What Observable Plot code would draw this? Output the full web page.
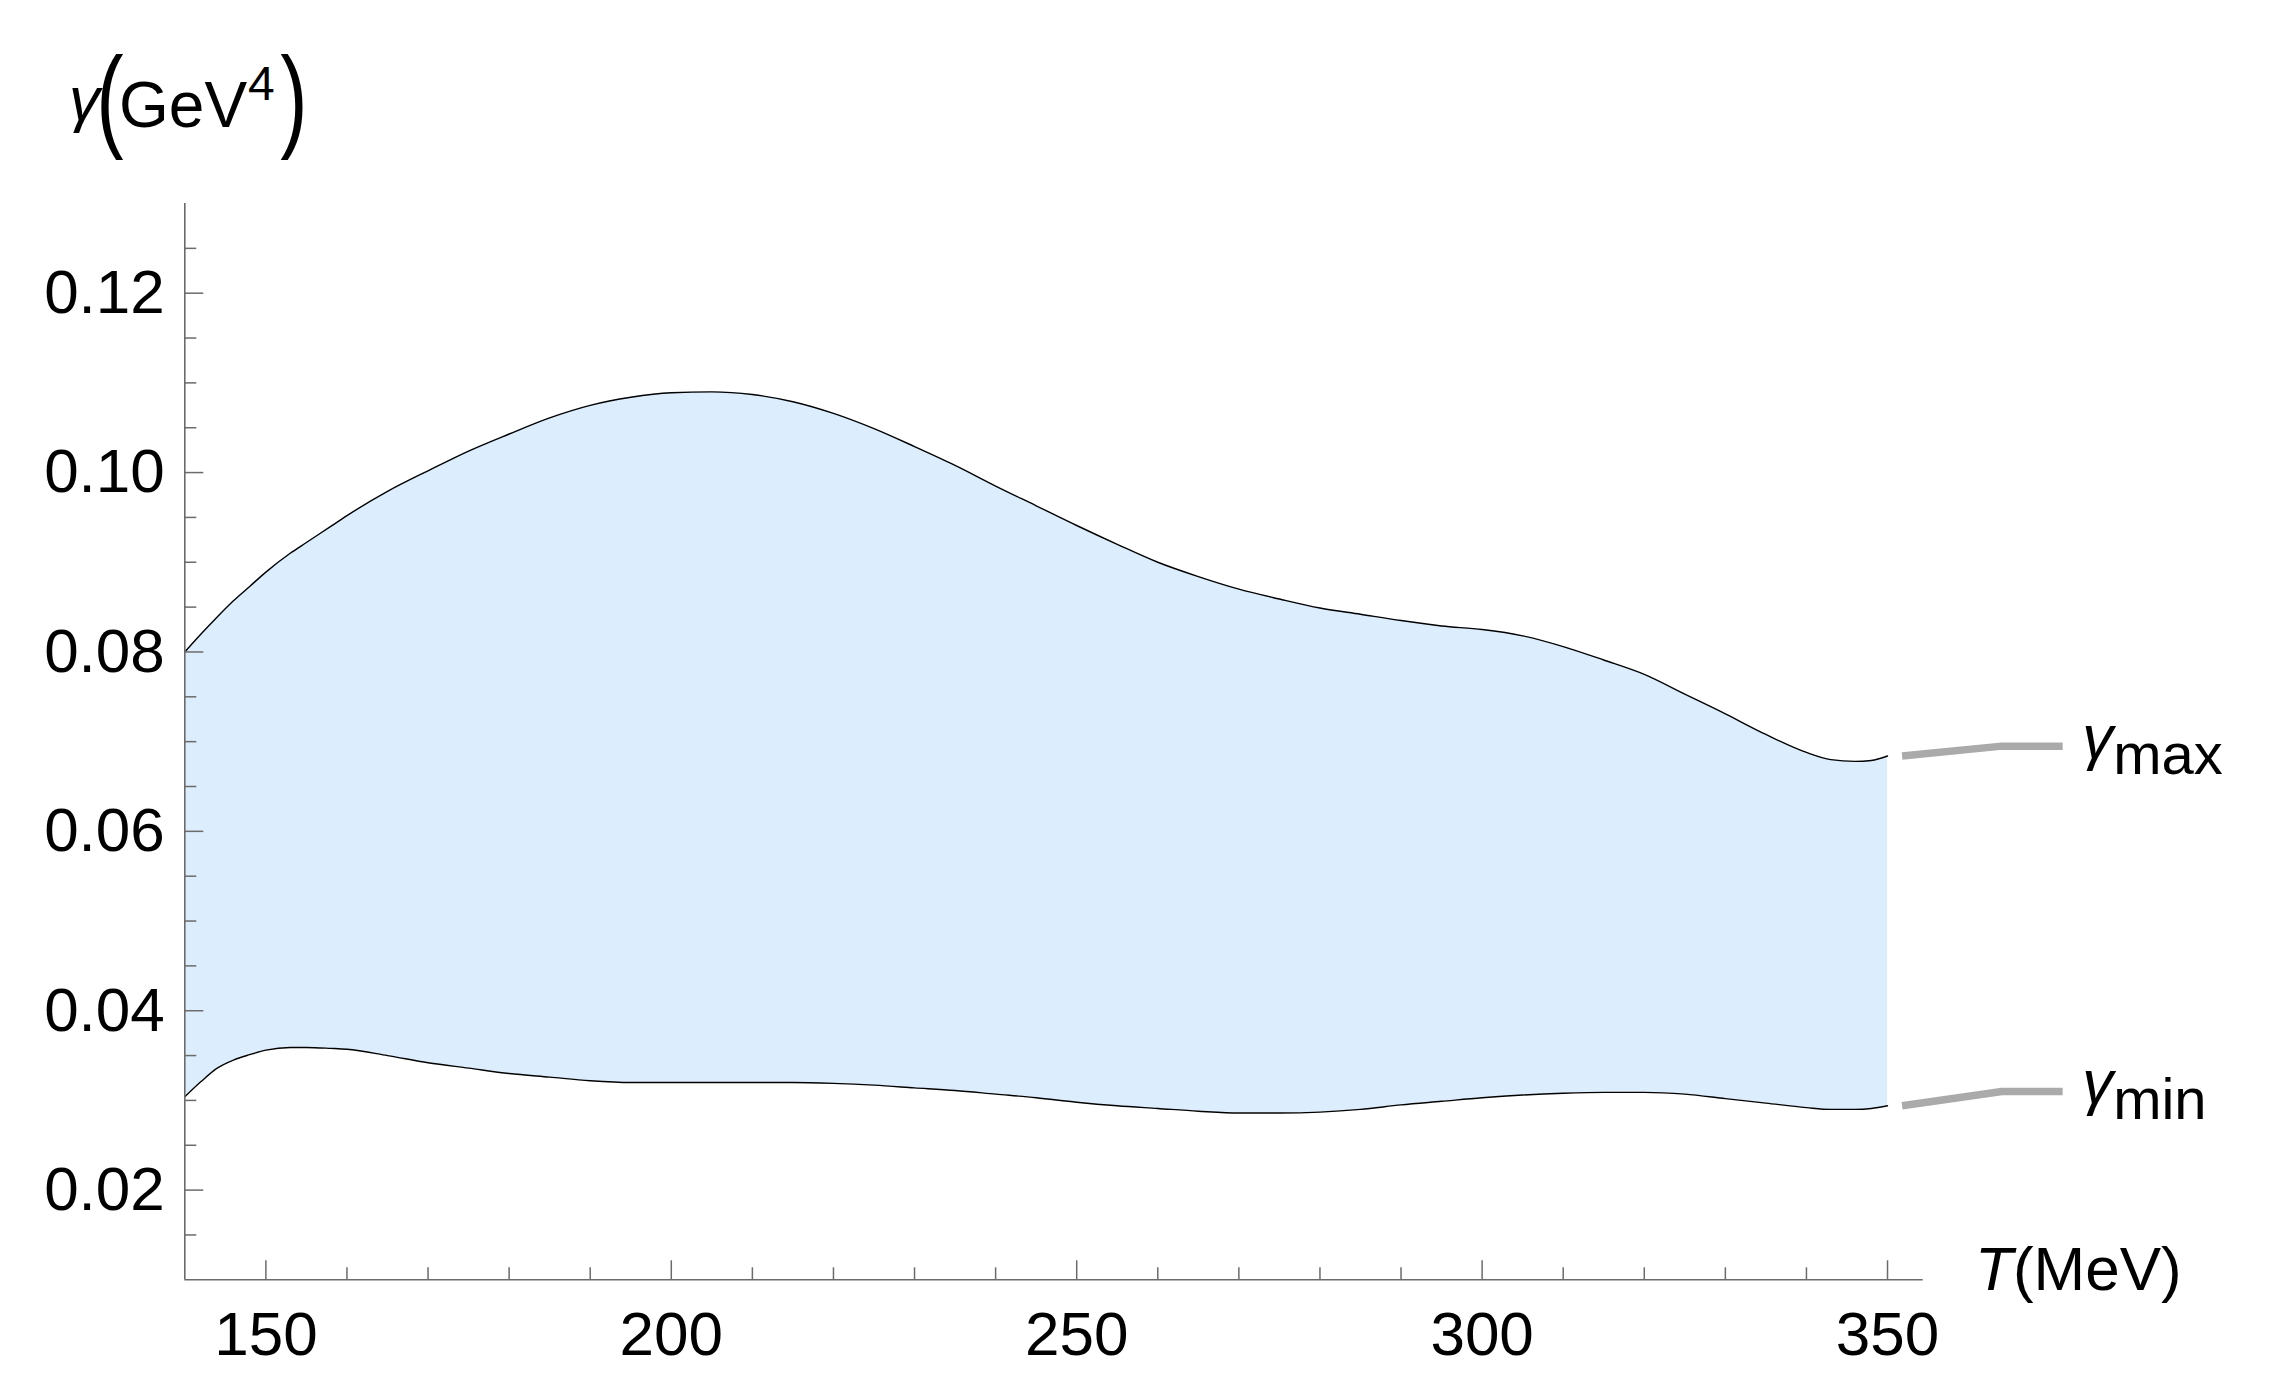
<!DOCTYPE html>
<html>
<head>
<meta charset="utf-8">
<script src="https://cdn.jsdelivr.net/npm/d3@7"></script>
<script src="https://cdn.jsdelivr.net/npm/@observablehq/plot@0.6"></script>
<style>
  html, body { margin: 0; padding: 0; background: #ffffff; overflow: hidden; }
  #chart { width: 2278px; height: 1398px; }
</style>
</head>
<body>
<div id="chart"></div>
<script>
// ---- data ----
const T = [140, 142, 144, 146, 148, 150, 153, 155, 158, 160, 165, 170, 175, 180, 185, 190, 195, 200,
           205, 210, 215, 220, 225, 230, 235, 240, 245, 250, 255, 260, 265, 270, 275, 280, 285, 290,
           295, 300, 305, 310, 315, 320, 325, 330, 335, 340, 343, 346, 348, 350];
const gammaMax = [0.0800, 0.0820, 0.0839, 0.0857, 0.0873, 0.0889, 0.0910, 0.0922, 0.0940, 0.0952,
                  0.0979, 0.1002, 0.1024, 0.1043, 0.1061, 0.1075, 0.1084, 0.1089, 0.1090, 0.1087,
                  0.1079, 0.1066, 0.1049, 0.1029, 0.1008, 0.0985, 0.0963, 0.0941, 0.0920, 0.0900,
                  0.0884, 0.0870, 0.0859, 0.0849, 0.0842, 0.0835, 0.0829, 0.0825, 0.0818, 0.0806,
                  0.0791, 0.0775, 0.0753, 0.0731, 0.0708, 0.0688, 0.0680, 0.0678, 0.0679, 0.0684];
const gammaMin = [0.0304, 0.0321, 0.0336, 0.0345, 0.0351, 0.0356, 0.0359, 0.0359, 0.0358, 0.0357,
                  0.0350, 0.0342, 0.0336, 0.0330, 0.0326, 0.0322, 0.0320, 0.0320, 0.0320, 0.0320,
                  0.0320, 0.0319, 0.0317, 0.0314, 0.0311, 0.0307, 0.0303, 0.0298, 0.0294, 0.0291,
                  0.0288, 0.0286, 0.0286, 0.0287, 0.0290, 0.0295, 0.0299, 0.0303, 0.0306, 0.0308,
                  0.0309, 0.0309, 0.0307, 0.0302, 0.0297, 0.0292, 0.0290, 0.0290, 0.0291, 0.0294];

const xMajorTicks = [150, 200, 250, 300, 350];
const xMinorTicks = [160, 170, 180, 190, 210, 220, 230, 240, 260, 270, 280, 290, 310, 320, 330, 340];
const yMajorTicks = [0.02, 0.04, 0.06, 0.08, 0.10, 0.12];
const yMinorTicks = [0.015, 0.025, 0.03, 0.035, 0.045, 0.05, 0.055, 0.065, 0.07, 0.075,
                     0.085, 0.09, 0.095, 0.105, 0.11, 0.115, 0.125];

const seriesLabels = ["max", "min"];
const calloutX = [351.8, 364.1, 371.6];
const calloutY = [0.0695, 0.0310];

// ---- layout ----
const W = 2278, H = 1398;
const mL = 184.3, mR = 355.3, mT = 203, mB = 118.7;
const frameW = W - mL - mR, frameH = H - mT - mB;
const axisColor = "#6b6b6b";
const font = "'Liberation Sans', Arial, Helvetica, sans-serif";

const data = T.map((t, i) => ({T: t, max: gammaMax[i], min: gammaMin[i]}));
const seriesEnd = [gammaMax[gammaMax.length - 1], gammaMin[gammaMin.length - 1]];
const callouts = seriesLabels.flatMap((s, k) => [
  {s, x: calloutX[0], y: seriesEnd[k]},
  {s, x: calloutX[1], y: calloutY[k]},
  {s, x: calloutX[2], y: calloutY[k]}
]);

const plot = Plot.plot({
  width: W, height: H,
  marginLeft: mL, marginRight: mR, marginTop: mT, marginBottom: mB,
  style: {fontFamily: font, fontSize: "62px", background: "#ffffff", overflow: "visible", color: "#000"},
  x: {domain: [140, 354.4]},
  y: {domain: [0.01, 0.13]},
  marks: [
    Plot.areaY(data, {x: "T", y1: "min", y2: "max", fill: "#dcedfd", curve: "monotone-x"}),
    Plot.line(data, {x: "T", y: "max", stroke: "#000", strokeWidth: 1.4, curve: "monotone-x"}),
    Plot.line(data, {x: "T", y: "min", stroke: "#000", strokeWidth: 1.4, curve: "monotone-x"}),
    // axis lines
    Plot.ruleY([0.01], {stroke: axisColor, strokeWidth: 1.6}),
    Plot.ruleX([140], {stroke: axisColor, strokeWidth: 1.6}),
    // inward ticks
    Plot.ruleX(xMajorTicks, {stroke: axisColor, strokeWidth: 1.5, insetTop: frameH - 19}),
    Plot.ruleX(xMinorTicks, {stroke: axisColor, strokeWidth: 1.5, insetTop: frameH - 12}),
    Plot.ruleY(yMajorTicks, {stroke: axisColor, strokeWidth: 1.5, insetRight: frameW - 19}),
    Plot.ruleY(yMinorTicks, {stroke: axisColor, strokeWidth: 1.5, insetRight: frameW - 12}),
    // tick labels
    Plot.axisX(xMajorTicks, {tickSize: 0, tickPadding: 31, fontSize: 62, label: null, tickFormat: d => String(d)}),
    Plot.axisY(yMajorTicks, {tickSize: 0, tickPadding: 20, fontSize: 62, label: null, tickFormat: d3.format(".2f")}),
    // callout lines
    Plot.line(callouts, {x: "x", y: "y", z: "s", stroke: "#aaaaaa", strokeWidth: 7.5, strokeLinecap: "butt", strokeLinejoin: "round", curve: "linear"})
  ]
});

document.getElementById("chart").appendChild(plot);

const svg = d3.select(plot);
const xs = plot.scale("x"), ys = plot.scale("y");

// y-axis title: γ(GeV^4)
const yt = svg.append("g").attr("font-family", font).attr("fill", "#000").attr("text-anchor", "start");
yt.append("text").attr("x", 69).attr("y", 120).attr("font-size", 62).attr("font-style", "italic").text("γ");
yt.append("text").attr("transform", "translate(110,136) scale(0.72,1)").attr("text-anchor", "middle").attr("font-size", 114).text("(");
yt.append("text").attr("x", 119).attr("y", 127).attr("font-size", 64).text("GeV");
yt.append("text").attr("x", 248).attr("y", 100).attr("font-size", 48).text("4");
yt.append("text").attr("transform", "translate(294,136) scale(0.72,1)").attr("text-anchor", "middle").attr("font-size", 114).text(")");

// x-axis title: T(MeV)
const xt = svg.append("text").attr("x", 1975).attr("y", 1290).attr("font-size", 62)
  .attr("font-family", font).attr("fill", "#000").attr("text-anchor", "start");
xt.append("tspan").attr("font-style", "italic").text("T");
xt.append("tspan").text("(MeV)");

// callout labels γ_max, γ_min
seriesLabels.forEach((s, k) => {
  const x0 = xs.apply(calloutX[2]) + 20;
  const yb = ys.apply(calloutY[k]);
  const t = svg.append("text").attr("x", x0).attr("y", yb + 12.5).attr("font-family", font)
    .attr("fill", "#000").attr("text-anchor", "start");
  t.append("tspan").attr("font-size", 62).attr("font-style", "italic").text("γ");
  t.append("tspan").attr("font-size", 58).attr("dy", 16).text(s);
});
</script>
</body>
</html>
